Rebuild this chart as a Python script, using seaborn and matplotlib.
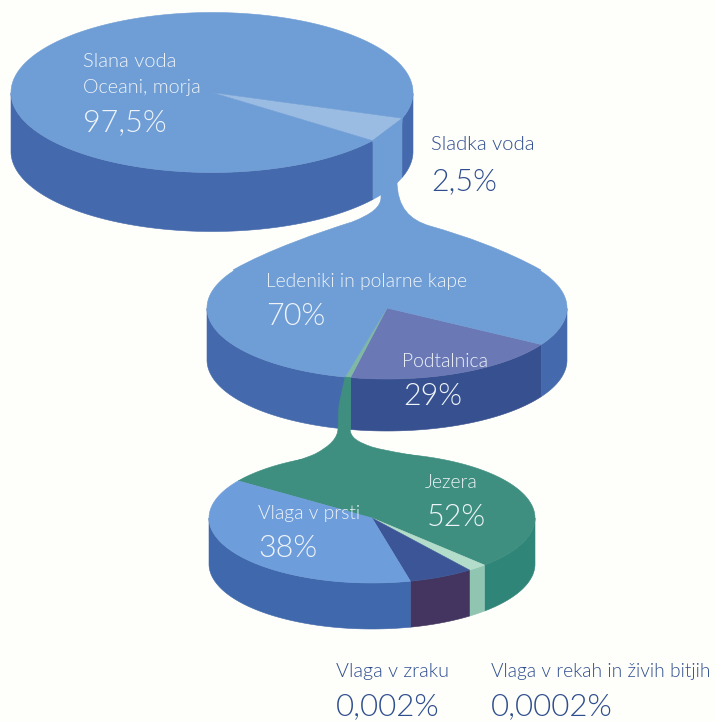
import numpy as np
import matplotlib
matplotlib.use("Agg")
import matplotlib.pyplot as plt
from matplotlib.patches import PathPatch, Polygon
from matplotlib.path import Path
import seaborn as sns

# Shares of each disc, listed clockwise from the disc's start angle
total_names = ["Sladka voda", "Slana voda"]
total_values = [2.5, 97.5]
fresh_names = ["Podtalnica", "Ostalo", "Ledeniki in polarne kape"]
fresh_values = [29, 1, 70]
surface_names = ["Jezera", "Vlaga v rekah in živih bitjih", "Vlaga v zraku", "Vlaga v prsti"]
surface_values = [52, 1.5, 8.5, 38]

BG = "#FEFEFA"
FACE = "#6F9DD5"
SIDE = "#4469AC"
GREEN = "#3F8F80"
NAVY = "#2F4E8F"
LABEL = "#EEF4F8"

top_colors = sns.color_palette(["#9ABCE3", FACE])
top_sides = sns.color_palette([FACE, SIDE])
mid_colors = sns.color_palette(["#6A79B6", "#7FB8A3", FACE])
mid_sides = sns.color_palette(["#37508F", GREEN, SIDE])
low_colors = sns.color_palette([GREEN, "#B4DCCB", "#3B5597", "#6E9DDB"])
low_sides = sns.color_palette(["#2F8578", "#8FC5B1", "#43355F", "#4068AC"])

sns.set_theme(style="white", rc={"figure.facecolor": BG, "axes.facecolor": BG})
plt.rcParams["font.family"] = ["Lato", "DejaVu Sans"]

fig = plt.figure(figsize=(7.15, 7.21), dpi=100)
ax = fig.add_axes([0, 0, 1, 1])
ax.set_xlim(0, 715)
ax.set_ylim(721, 0)
sns.despine(ax=ax, left=True, bottom=True)
ax.set_xticks([])
ax.set_yticks([])


def rim(disc, angle):
    """Rim point of an elliptical disc at a polar angle measured on the page."""
    cx, cy, a, b, _ = disc
    t = np.radians(angle)
    r = 1 / np.sqrt((np.cos(t) / a) ** 2 + (np.sin(t) / b) ** 2)
    return cx + r * np.cos(t), cy - r * np.sin(t)


def draw_disc(disc, start, values, faces, sides, z):
    """Draw the walls and top face of one disc; returns the slice boundary angles."""
    cx, cy, _, _, depth = disc
    edges = start - np.cumsum([0] + list(values)) * 3.6
    for lo, hi, side in zip(edges[:-1], edges[1:], sides):
        ang = np.linspace(lo, hi, 900)
        front = np.sin(np.radians(ang)) <= 0
        runs = np.split(ang[front], np.where(np.diff(np.where(front)[0]) > 1)[0] + 1)
        for run in runs:
            if len(run) < 2:
                continue
            x, y = rim(disc, run)
            pts = np.r_[np.c_[x, y], np.c_[x, y + depth][::-1]]
            ax.add_patch(Polygon(pts, closed=True, fc=side, ec=side, lw=0.4, zorder=z))
    for lo, hi, face in zip(edges[:-1], edges[1:], faces):
        x, y = rim(disc, np.linspace(lo, hi, 900))
        pts = np.r_[[[cx, cy]], np.c_[x, y]]
        ax.add_patch(Polygon(pts, closed=True, fc=face, ec=face, lw=0.4, zorder=z + 1))
    return edges


def draw_funnel(verts, codes, color, z):
    ax.add_patch(PathPatch(Path(verts, codes), fc=color, ec=color, lw=0.4, zorder=z))


M, L, C = Path.MOVETO, Path.LINETO, Path.CURVE4

# Discs as centre x, centre y, half width, half height, wall depth
disc_top = (212, 92.5, 201, 80, 59)
disc_mid = (387, 308, 180, 71, 52)
disc_low = (372, 518, 163, 65, 46)

# Top disc and the stream feeding the middle one
e = draw_disc(disc_top, -7.7, total_values, top_colors, top_sides, 2)
xr, yr = rim(disc_top, e[0])
xl, yl = rim(disc_top, e[1])
draw_funnel(
    [(xl, yl), (381, 172), (381, 197), (381, 207), (372, 214), (352, 222),
     (320, 232), (268, 250), (233, 270), (387, 308), (541, 270),
     (505, 250), (465, 236), (430, 226), (410, 220), (397, 208), (397, 180), (xr, yr), (xl, yl)],
    [M, L, L, C, C, C, C, C, C, L, L, C, C, C, C, C, C, L, L],
    FACE, 4,
)

# Middle disc and the stream feeding the lower one
e = draw_disc(disc_mid, -13.3, fresh_values, mid_colors, mid_sides, 5)
xr, yr = rim(disc_mid, e[1])
xl, yl = rim(disc_mid, e[2])
draw_funnel(
    [(xl, yl), (339, 405), (338, 428), (338, 438), (330, 446), (315, 454),
     (295, 463), (265, 468), (243, 479), (372, 518), (432, 459),
     (415, 455), (390, 452), (372, 447), (358, 442), (350, 438), (350, 428), (xr, yr), (xl, yl)],
    [M, L, L, C, C, C, C, C, C, L, L, C, C, C, C, C, C, L, L],
    GREEN, 7,
)

# Lower disc
draw_disc(disc_low, 164.5, surface_values, low_colors, low_sides, 8)

# Labels: x, baseline y, text, font size, colour
small, large = 13.9, 22
labels = [
    (83, 67, "Slana voda", 14.5, LABEL),
    (83, 93, "Oceani, morja", 14.2, LABEL),
    (83, 131, "97,5%", large, LABEL),
    (431, 150, "Sladka voda", 14.6, NAVY),
    (431, 190, "2,5%", large, NAVY),
    (266, 287, "Ledeniki in polarne kape", small, LABEL),
    (266, 325, "70%", large, LABEL),
    (402, 367, "Podtalnica", small, LABEL),
    (403, 405, "29%", large, LABEL),
    (425, 488, "Jezera", small, LABEL),
    (427, 526, "52%", large, LABEL),
    (258, 519, "Vlaga v prsti", small, LABEL),
    (258, 557, "38%", large, LABEL),
    (336, 677, "Vlaga v zraku", 14.2, NAVY),
    (336, 715, "0,002%", 22.5, NAVY),
    (491, 677, "Vlaga v rekah in živih bitjih", 13.8, NAVY),
    (491, 715, "0,0002%", 22.5, NAVY),
]
for x, y, text, size, color in labels:
    ax.text(x, y, text, fontsize=size, color=color, ha="left", va="baseline", weight=300, zorder=20)

fig.savefig("out.png", dpi=100, facecolor=BG)
